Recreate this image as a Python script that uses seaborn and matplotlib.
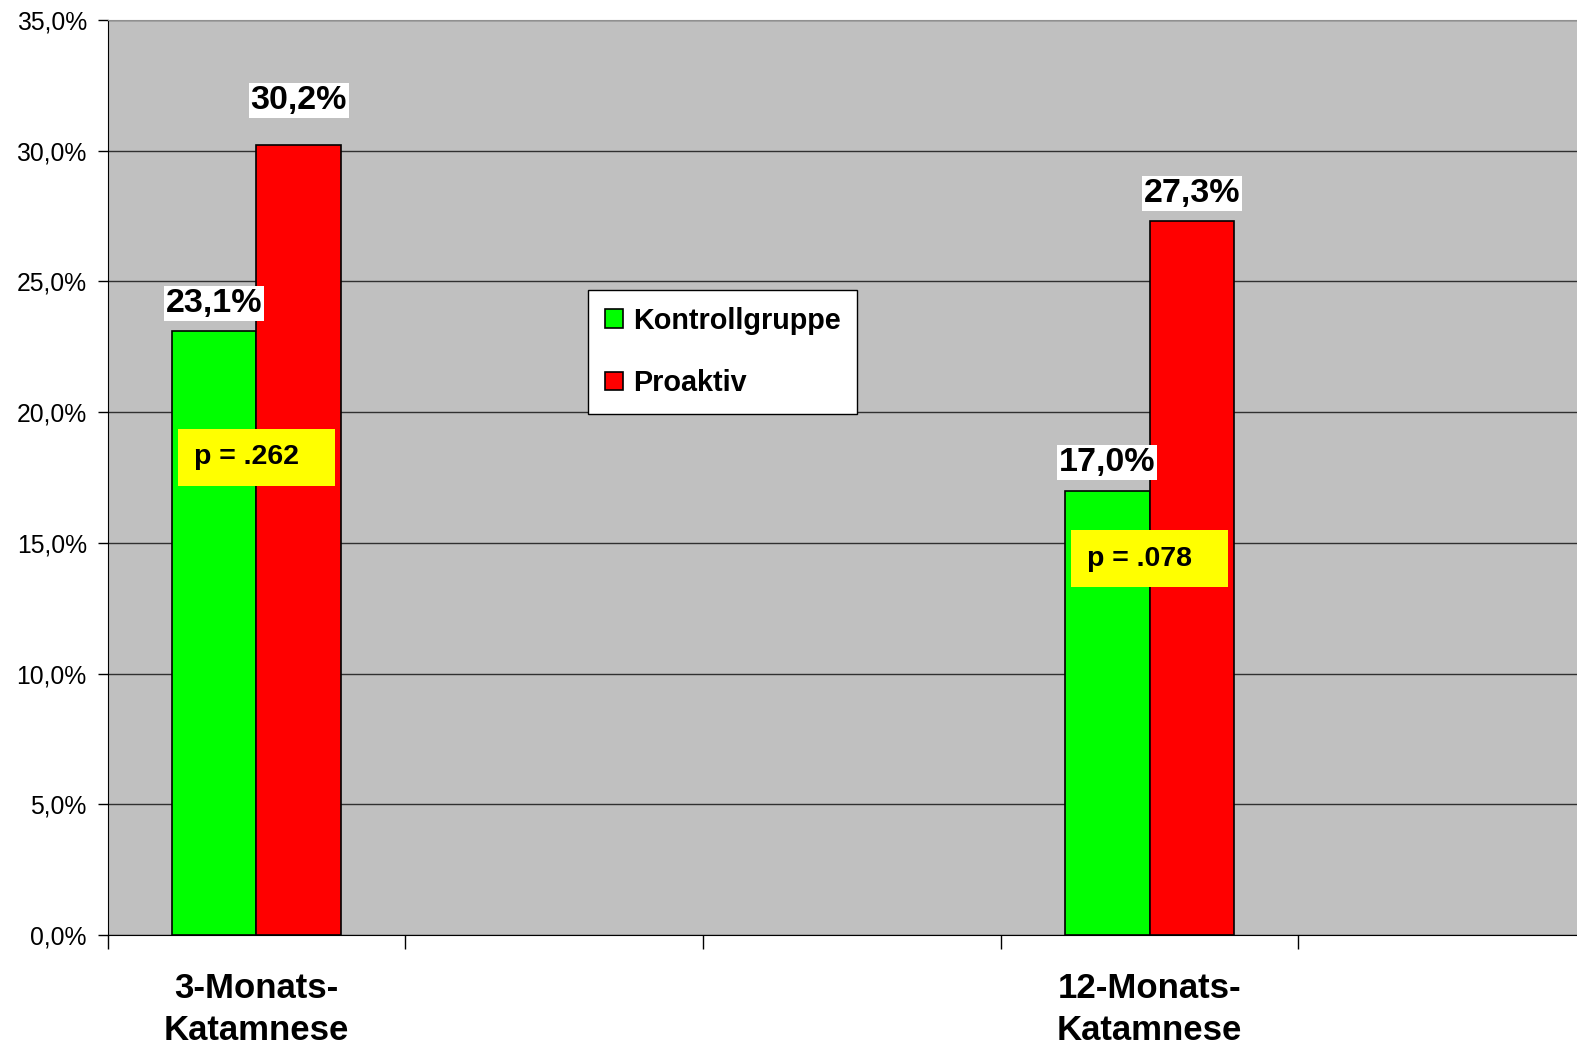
import matplotlib
matplotlib.use("Agg")
import matplotlib.pyplot as plt
import matplotlib.patches as mpatches
from matplotlib.ticker import FuncFormatter
import seaborn as sns
import pandas as pd

# Daten
zeitpunkte = ["3-Monats-\nKatamnese", "12-Monats-\nKatamnese"]
gruppen = ["Kontrollgruppe", "Proaktiv"]
kontrolle = [23.1, 17.0]
proaktiv = [30.2, 27.3]
p_werte = ["p = .262", "p = .078"]
p_hoehe = [18.27, 14.4]  # Mitte der gelben Kaesten (in %)
# leere Kategorien wie im Original-Diagramm
achse = [zeitpunkte[0], " ", "  ", zeitpunkte[1], "   "]
farben = {"Kontrollgruppe": "#00FF00", "Proaktiv": "#FF0000"}
y_ticks = [0, 5, 10, 15, 20, 25, 30, 35]

df = pd.DataFrame({
    "zeit": zeitpunkte * 2,
    "gruppe": [gruppen[0]] * 2 + [gruppen[1]] * 2,
    "wert": kontrolle + proaktiv,
})

plt.rcParams["font.family"] = ["Liberation Sans", "DejaVu Sans"]

W, H = 1577, 1045
fig = plt.figure(figsize=(W / 100, H / 100), dpi=100)
links, oben, unten, slot = 107.6, 20, 935, 297.7
ax = fig.add_axes([links / W, 1 - unten / H, (W - links) / W, (unten - oben) / H])
ax.set_facecolor("#C0C0C0")

sns.barplot(data=df, x="zeit", y="wert", hue="gruppe", order=achse, hue_order=gruppen,
            palette=farben, width=0.57, saturation=1, edgecolor="black", linewidth=1.2,
            ax=ax, legend=False, zorder=2)

ax.set_yticks(y_ticks)
ax.yaxis.set_major_formatter(FuncFormatter(lambda v, _: f"{v:.1f}%".replace(".", ",")))
ax.grid(axis="y", color="#303030", linewidth=1)
ax.set_axisbelow(True)
ax.set_xlabel("")
ax.set_ylabel("")

ax.tick_params(axis="y", length=7, width=1, pad=8, labelsize=17.8, colors="black")
ax.set_xticks(range(len(achse)))
ax.set_xticklabels(achse, fontsize=25, fontweight="bold")
ax.tick_params(axis="x", which="major", length=0, pad=26.5)
ax.set_xticks([i - 0.5 for i in range(len(achse) + 1)], minor=True)
ax.tick_params(axis="x", which="minor", length=10, width=1, color="black")
for lbl in ax.get_xticklabels():
    lbl.set_linespacing(1.36)

# Grenzen erst nach den Ticks setzen (set_xticks erweitert sonst die Achse)
ax.set_xlim(-0.5, -0.5 + (W - links) / slot)
ax.set_ylim(0, 35)

ax.spines["right"].set_visible(False)
ax.spines["top"].set_color("#909090")
ax.spines["left"].set_color("black")
ax.spines["bottom"].set_color("black")

# Wertebeschriftungen
for cont in ax.containers:
    for b in cont:
        h = b.get_height()
        lift = 21 if h > 30 else 9
        ax.annotate(f"{h:.1f}%".replace(".", ","), (b.get_x() + b.get_width() / 2, h),
                    xytext=(0, lift), textcoords="offset points", ha="center", va="bottom",
                    fontsize=24.5, fontweight="bold", zorder=5,
                    bbox=dict(facecolor="white", edgecolor="none", boxstyle="square,pad=0.06"))

# p-Werte
for z, p, yh in zip(zeitpunkte, p_werte, p_hoehe):
    xc = achse.index(z)
    ax.add_patch(mpatches.Rectangle((xc - 0.265, yh - 1.09), 0.53, 2.18,
                                    facecolor="#FFFF00", edgecolor="none", zorder=4))
    ax.text(xc - 0.21, yh, p, fontsize=20.5, fontweight="bold", va="center", ha="left", zorder=5)

# Legende
handles = [mpatches.Patch(facecolor=farben[g], edgecolor="black", linewidth=1.2) for g in gruppen]
leg = ax.legend(handles, gruppen, loc="upper left", bbox_to_anchor=(588 / W, 1 - 290 / H),
                bbox_transform=fig.transFigure, prop=dict(weight="bold", size=20.7),
                frameon=True, fancybox=False, edgecolor="black", framealpha=1,
                handlelength=0.63, handleheight=0.63, handletextpad=0.35,
                labelspacing=1.2, borderpad=0.58, borderaxespad=0)
leg.get_frame().set_linewidth(1)

fig.savefig("out.png", dpi=100)
